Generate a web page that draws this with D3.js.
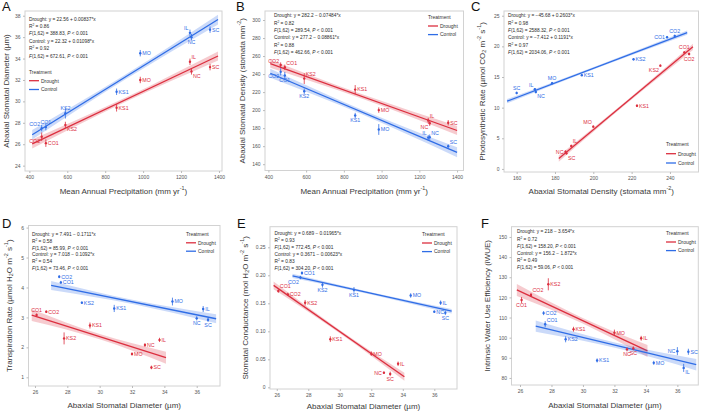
<!DOCTYPE html>
<html>
<head>
<meta charset="utf-8">
<script src="https://cdn.jsdelivr.net/npm/d3@7"></script>
<style>
  body { margin: 0; background: #fff; }
  svg { display: block; font-family: "Liberation Sans", Arial, sans-serif; }
</style>
</head>
<body>
<svg id="chart" width="702" height="411"></svg>
<script>
// sites, in the same order for every array below
var sites = ['CO1', 'CO2', 'KS2', 'KS1', 'MO', 'IL', 'NC', 'SC'];
var precip = [487, 465, 590, 860, 985, 1247, 1255, 1353];

// abaxial stomatal diameter (um)
var diamDrought = [26.1, 26.7, 27.8, 29.4, 32.0, 33.7, 32.8, 33.2];
var diamControl = [27.6, 27.5, 28.9, 30.9, 34.5, 36.4, 36.0, 36.7];
var diamErrDrought = [0.35, 0.4, 0.3, 0.35, 0.3, 0.3, 0.3, 0.3];
var diamErrControl = [0.3, 0.3, 0.5, 0.3, 0.3, 0.3, 0.3, 0.3];

// abaxial stomatal density (stomata mm-2)
var densDrought = [247.5, 250, 235, 222.8, 200, 188.5, 185.5, 186];
var densControl = [238.5, 242.5, 221, 194, 178.5, 169.5, 170, 160];
var densErrDrought = [3, 3, 6, 5, 3, 3, 3, 3];
var densErrControl = [4, 4, 3, 3, 6, 3, 3, 2];

// photosynthetic rate
var photoDrought = [19.0, 18.75, 16.85, 10.3, 6.9, 3.75, 2.8, 2.55];
var photoControl = [21.5, 21.7, 17.9, 15.3, 14.0, 13.0, 12.55, 12.4];
var photoErr = [0.2, 0.2, 0.2, 0.2, 0.2, 0.2, 0.2, 0.2];

// transpiration rate
var transDrought = [3.08, 3.19, 2.30, 2.73, 1.78, 2.25, 2.08, 1.33];
var transControl = [4.17, 4.36, 3.49, 3.30, 3.53, 3.28, 2.97, 2.92];
var transErrDrought = [0.05, 0.04, 0.2, 0.1, 0.05, 0.07, 0.06, 0.06];
var transErrControl = [0.05, 0.05, 0.04, 0.12, 0.13, 0.1, 0.07, 0.07];

// stomatal conductance
var condDrought = [0.172, 0.166, 0.151, 0.086, 0.060, 0.042, 0.026, 0.024];
var condControl = [0.204, 0.196, 0.183, 0.174, 0.164, 0.151, 0.135, 0.133];
var condErr = [0.003, 0.003, 0.005, 0.005, 0.004, 0.004, 0.002, 0.004];

// intrinsic water use efficiency
var iwueDrought = [118.7, 121.2, 126.5, 104.2, 102.5, 99.7, 94.2, 94.7];
var iwueControl = [106.7, 112.2, 99.2, 88.7, 87.5, 85.0, 93.3, 93.0];
var iwueErrDrought = [1.5, 1, 3, 1.2, 1.5, 1.2, 1, 1];
var iwueErrControl = [1.5, 1, 1.5, 1, 1, 2, 2, 1.5];

// fitted lines: [[x0, y0], [x1, y1]] and band half widths [left, mid, right]
var fitA = { drought: [[415, 26.03], [1395, 34.24]], control: [[415, 26.88], [1395, 37.64]] };
var bandA = { drought: [0.42, 0.2, 0.42], control: [0.45, 0.22, 0.45] };
var fitB = { drought: [[410, 251.5], [1400, 177.4]], control: [[410, 240.9], [1400, 153.2]] };
var bandB = { drought: [4.5, 2.5, 5], control: [5, 2.5, 5.5] };
var fitC = { drought: [[182, 1.69], [252, 19.92]], control: [[155, 11.05], [249, 22.24]] };
var bandC = { drought: [0.5, 0.25, 0.5], control: [0.35, 0.18, 0.35] };
var fitD = { drought: [[25.8, 3.077], [34.1, 1.656]], control: [[27.0, 4.07], [37.2, 2.956]] };
var bandD = { drought: [0.2, 0.09, 0.2], control: [0.15, 0.07, 0.15] };
var fitE = { drought: [[25.8, 0.182], [34.1, 0.0189]], control: [[27.0, 0.199], [37.1, 0.136]] };
var bandE = { drought: [0.007, 0.003, 0.007], control: [0.004, 0.002, 0.004] };
var fitF = { drought: [[25.8, 123.7], [34.1, 93.4]], control: [[27.0, 105.7], [37.2, 86.56]] };
var bandF = { drought: [3, 1.4, 3], control: [2.8, 1.3, 2.8] };

// statistics text
var statsA = ['Drought: y = 22.56 + 0.00837*x', '0.86', ['388.83'], 'Control: y = 22.32 + 0.01098*x', '0.92', ['672.61']];
var statsB = ['Drought: y = 282.2 \u2212 0.07484*x', '0.82', ['289.54'], 'Control: y = 277.2 \u2212 0.08861*x', '0.88', ['462.66']];
var statsC = ['Drought: y = \u221245.68 + 0.2603*x', '0.98', ['2588.32'], 'Control: y = \u22127.412 + 0.1191*x', '0.97', ['2034.06']];
var statsD = ['Drought: y = 7.491 \u2212 0.1711*x', '0.58', ['85.99'], 'Control: y = 7.018 \u2212 0.1092*x', '0.54', ['73.46']];
var statsE = ['Drought: y = 0.689 \u2212 0.01965*x', '0.93', ['772.45'], 'Control: y = 0.3671 \u2212 0.00623*x', '0.83', ['304.20']];
var statsF = ['Drought: y = 218 \u2212 3.654*x', '0.72', ['158.20'], 'Control: y = 156.2 \u2212 1.872*x', '0.49', ['59.06']];

// tick values
var precipTicks = [400, 600, 800, 1000, 1200, 1400];
var diamTicksA = [24, 26, 28, 30, 32, 34, 36, 38];
var densTicks = [140, 160, 180, 200, 220, 240, 260, 280, 300];
var densTicksX = [160, 180, 200, 220, 240];
var photoTicks = [0, 5, 10, 15, 20, 25];
var diamTicks = [26, 28, 30, 32, 34, 36];
var transTicks = [1, 2, 3, 4, 5, 6];
var condTicks = [0, 0.05, 0.10, 0.15, 0.20, 0.25];
var iwueTicks = [80, 90, 100, 110, 120, 130, 140, 150];

var red = '#dc2f3f',
    blue = '#2f6de6',
    frameStroke = '#d2d2d2',
    tickColor = '#555',
    titleColor = '#3a3a3a',
    titleSize = 8,
    statSize = 4.8;

var mapTitle = [['Mean Annual Precipitation (mm yr'], ['-1', 'sup'], [')']];
var diamTitle = [['Abaxial Stomatal Diameter (\u00b5m)']];
var densTitle = [['Abaxial Stomatal Density (stomata mm'], ['-2', 'sup'], [')']];

// label placement around each point: r, l, a, b, ar, al, br, bl
var panels = [
  { key: 'A', box: [25, 11, 222, 171], xDom: [377, 1416], yDom: [23.5, 38.44],
    xTicks: precipTicks, yTicks: diamTicksA,
    xs: [precip, precip], ys: [diamDrought, diamControl], errs: [diamErrDrought, diamErrControl],
    fit: fitA, band: bandA, stats: statsA, statsPos: [29, 20.5, 7.4],
    legend: [29, 73.5, 8.8], letter: [2, 11], yTitleX: 6, xTitleY: 193.5,
    xTitle: mapTitle, yTitle: diamTitle,
    lab: [['r', 'bl', 'br', 'r', 'r', 'ar', 'br', 'r'], ['a', 'al', 'a', 'r', 'r', 'al', 'b', 'r']] },
  { key: 'B', box: [265, 11, 463.5, 170.5], xDom: [382, 1434], yDom: [133, 310],
    xTicks: precipTicks, yTicks: densTicks,
    xs: [precip, precip], ys: [densDrought, densControl], errs: [densErrDrought, densErrControl],
    fit: fitB, band: bandB, stats: statsB, statsPos: [274, 17.4, 7.3],
    legend: [428, 19, 8.6], letter: [236, 11], yTitleX: 242, xTitleY: 193.5,
    xTitle: mapTitle, yTitle: densTitle,
    lab: [['ar', 'al', 'ar', 'r', 'r', 'ar', 'bl', 'r'], ['b', 'bl', 'b', 'b', 'r', 'al', 'ar', 'ar']] },
  { key: 'C', box: [504, 11, 698.5, 172], xDom: [153.4, 254.9], yDom: [-0.5, 25.77],
    xTicks: densTicksX, yTicks: photoTicks,
    xs: [densDrought, densControl], ys: [photoDrought, photoControl], errs: [photoErr, photoErr],
    fit: fitC, band: bandC, stats: statsC, statsPos: [508, 17.4, 7.3],
    legend: [666, 146, 9.3], letter: [471, 11], yTitleX: 482, xTitleY: 193.5,
    xTitle: densTitle,
    yTitle: [['Photosynthetic Rate (\u00b5mol CO'], ['2', 'sub'], [' m'], ['-2', 'sup'], [' s'], ['-1', 'sup'], [')']],
    lab: [['a', 'b', 'bl', 'r', 'al', 'ar', 'l', 'br'], ['l', 'a', 'r', 'r', 'a', 'al', 'br', 'a']] },
  { key: 'D', box: [28.5, 225.5, 220, 386], xDom: [25.6, 37.44], yDom: [0.71, 6.07],
    xTicks: diamTicks, yTicks: transTicks,
    xs: [diamDrought, diamControl], ys: [transDrought, transControl], errs: [transErrDrought, transErrControl],
    fit: fitD, band: bandD, stats: statsD, statsPos: [32, 235.7, 6.9],
    legend: [186, 236, 8.4], letter: [2, 228], yTitleX: 9, xTitleY: 407.5,
    xTitle: diamTitle,
    yTitle: [['Transpiration Rate (\u00b5mol H'], ['2', 'sub'], ['O m'], ['-2', 'sup'], [' s'], ['-1', 'sup'], [')']],
    lab: [['a', 'r', 'r', 'r', 'r', 'r', 'r', 'r'], ['r', 'r', 'r', 'r', 'r', 'r', 'b', 'b']] },
  { key: 'E', box: [270, 226.7, 457, 389], xDom: [25.57, 37.44], yDom: [-0.003, 0.2868],
    xTicks: diamTicks, yTicks: condTicks, yFmt: function(d) { return d === 0 ? '0' : d3.format('.2f')(d); },
    xs: [diamDrought, diamControl], ys: [condDrought, condControl], errs: [condErr, condErr],
    fit: fitE, band: bandE, stats: statsE, statsPos: [274.5, 235, 7],
    legend: [422, 236, 8.6], letter: [237, 228], yTitleX: 245, xTitleY: 408.5,
    xTitle: diamTitle,
    yTitle: [['Stomatal Conductance (mol H'], ['2', 'sub'], ['O m'], ['-2', 'sup'], [' s'], ['-1', 'sup'], [')']],
    lab: [['ar', 'r', 'r', 'r', 'r', 'r', 'l', 'b'], ['r', 'bl', 'b', 'b', 'r', 'r', 'r', 'b']] },
  { key: 'F', box: [511.5, 226.7, 698.3, 385], xDom: [25.46, 37.33], yDom: [76.5, 155.1],
    xTicks: diamTicks, yTicks: iwueTicks,
    xs: [diamDrought, diamControl], ys: [iwueDrought, iwueControl], errs: [iwueErrDrought, iwueErrControl],
    fit: fitF, band: bandF, stats: statsF, statsPos: [517, 233.4, 7.1],
    legend: [666, 235, 8.6], letter: [481, 228], yTitleX: 487, xTitleY: 407.5,
    xTitle: diamTitle,
    yTitle: [['Intrinsic Water Use Efficiency (iWUE)']],
    lab: [['b', 'ar', 'r', 'r', 'r', 'r', 'b', 'b'], ['ar', 'r', 'r', 'r', 'r', 'br', 'l', 'r']] }
];

var labelOffsets = {
  r:  { dx: 2,    dy: 1.9, anchor: 'start' },
  l:  { dx: -2,   dy: 1.9, anchor: 'end' },
  a:  { dx: 0,    dy: -3,  anchor: 'middle' },
  b:  { dx: 0,    dy: 6.8, anchor: 'middle' },
  ar: { dx: 1.5,  dy: -2.5, anchor: 'start' },
  al: { dx: -1.5, dy: -2.5, anchor: 'end' },
  br: { dx: 1.5,  dy: 6.2, anchor: 'start' },
  bl: { dx: -1.5, dy: 6.2, anchor: 'end' }
};

var svg = d3.select('#chart');

panels.forEach(drawPanel);

function rich(sel, parts, size) {
  var shift = 0;
  parts.forEach(function(p) {
    var s = p[1] === 'sup' ? -0.38 * size : p[1] === 'sub' ? 0.22 * size : 0;
    var t = sel.append('tspan').text(p[0]).attr('dy', s - shift);
    shift = s;
    if (p[1] === 'sup' || p[1] === 'sub') t.attr('font-size', size * 0.68);
    if (p[1] === 'i') t.attr('font-style', 'italic');
  });
}

function drawPanel(p) {
  var box = p.box;
  var g = svg.append('g').attr('class', 'panel panel-' + p.key);

  var x = d3.scaleLinear().domain(p.xDom).range([box[0], box[2]]);
  var y = d3.scaleLinear().domain(p.yDom).range([box[3], box[1]]);

  g.append('rect')
    .attr('x', box[0]).attr('y', box[1])
    .attr('width', box[2] - box[0]).attr('height', box[3] - box[1])
    .attr('fill', '#fff')
    .attr('stroke', frameStroke)
    .attr('stroke-width', 1);

  // axes
  var gx = g.append('g')
    .attr('transform', 'translate(0,' + box[3] + ')')
    .call(d3.axisBottom(x).tickValues(p.xTicks).tickSize(2).tickPadding(2.5)
      .tickFormat(p.xFmt || d3.format('d')));
  var gy = g.append('g')
    .attr('transform', 'translate(' + box[0] + ',0)')
    .call(d3.axisLeft(y).tickValues(p.yTicks).tickSize(2).tickPadding(2.5)
      .tickFormat(p.yFmt || d3.format('d')));
  [gx, gy].forEach(function(a) {
    a.select('.domain').remove();
    a.selectAll('line').attr('stroke', '#bbb');
    a.selectAll('text').attr('fill', tickColor).attr('font-size', 5)
      .attr('font-family', '"Liberation Sans", Arial, sans-serif');
  });

  // titles
  var xt = g.append('text')
    .attr('x', (box[0] + box[2]) / 2)
    .attr('y', p.xTitleY)
    .attr('text-anchor', 'middle')
    .attr('font-size', titleSize)
    .attr('fill', titleColor);
  rich(xt, p.xTitle, titleSize);

  var yt = g.append('text')
    .attr('transform', 'translate(' + p.yTitleX + ',' + ((box[1] + box[3]) / 2) + ') rotate(-90)')
    .attr('text-anchor', 'middle')
    .attr('dominant-baseline', 'central')
    .attr('font-size', titleSize)
    .attr('fill', titleColor);
  rich(yt, p.yTitle, titleSize);

  g.append('text')
    .attr('x', p.letter[0]).attr('y', p.letter[1])
    .attr('font-size', 13)
    .attr('fill', '#111')
    .text(p.key);

  // confidence bands and fitted lines
  var area = d3.area()
    .x(function(d) { return x(d[0]); })
    .y0(function(d) { return y(d[1] - d[2]); })
    .y1(function(d) { return y(d[1] + d[2]); })
    .curve(d3.curveNatural);

  ['drought', 'control'].forEach(function(tr) {
    var f = p.fit[tr], w = p.band[tr];
    var col = tr === 'drought' ? red : blue;
    var mid = [(f[0][0] + f[1][0]) / 2, (f[0][1] + f[1][1]) / 2];
    g.append('path')
      .datum([[f[0][0], f[0][1], w[0]], [mid[0], mid[1], w[1]], [f[1][0], f[1][1], w[2]]])
      .attr('d', area)
      .attr('fill', col)
      .attr('fill-opacity', 0.25);
    g.append('line')
      .attr('x1', x(f[0][0])).attr('y1', y(f[0][1]))
      .attr('x2', x(f[1][0])).attr('y2', y(f[1][1]))
      .attr('stroke', col)
      .attr('stroke-width', 1.3);
  });

  // points, error bars, site labels
  [0, 1].forEach(function(k) {
    var col = k === 0 ? red : blue;
    var pts = sites.map(function(s, i) {
      return { site: s, x: p.xs[k][i], y: p.ys[k][i], e: p.errs[k][i], pos: p.lab[k][i] };
    });
    var pg = g.append('g').attr('class', k === 0 ? 'drought' : 'control');
    pg.selectAll('line.err').data(pts).enter().append('line')
      .attr('class', 'err')
      .attr('x1', function(d) { return x(d.x); })
      .attr('x2', function(d) { return x(d.x); })
      .attr('y1', function(d) { return y(d.y - d.e); })
      .attr('y2', function(d) { return y(d.y + d.e); })
      .attr('stroke', col)
      .attr('stroke-width', 0.8);
    pg.selectAll('circle').data(pts).enter().append('circle')
      .attr('cx', function(d) { return x(d.x); })
      .attr('cy', function(d) { return y(d.y); })
      .attr('r', 1.2)
      .attr('fill', col);
    pg.selectAll('text').data(pts).enter().append('text')
      .attr('x', function(d) { return x(d.x) + labelOffsets[d.pos].dx; })
      .attr('y', function(d) { return y(d.y) + labelOffsets[d.pos].dy; })
      .attr('text-anchor', function(d) { return labelOffsets[d.pos].anchor; })
      .attr('font-size', 5.3)
      .attr('fill', col)
      .text(function(d) { return d.site; });
  });

  // statistics block
  var sx = p.statsPos[0], sy = p.statsPos[1], sh = p.statsPos[2];
  var st = p.stats;
  var lines = [
    [[st[0]]],
    [['R'], ['2', 'sup'], [' = ' + st[1]]],
    [['F', 'i'], ['(1,62) = ' + st[2][0] + ', '], ['P', 'i'], [' < 0.001']],
    [[st[3]]],
    [['R'], ['2', 'sup'], [' = ' + st[4]]],
    [['F', 'i'], ['(1,62) = ' + st[5][0] + ', '], ['P', 'i'], [' < 0.001']]
  ];
  lines.forEach(function(parts, i) {
    var t = g.append('text')
      .attr('x', sx).attr('y', sy + i * sh)
      .attr('font-size', statSize)
      .attr('fill', '#2a2a2a');
    rich(t, parts, statSize);
  });

  // legend
  var lx = p.legend[0], ly = p.legend[1], lh = p.legend[2];
  g.append('text').attr('x', lx).attr('y', ly)
    .attr('font-size', 5).attr('fill', '#333').text('Treatment');
  [['Drought', red], ['Control', blue]].forEach(function(it, i) {
    var yy = ly + (i + 1) * lh - 1.6;
    g.append('line')
      .attr('x1', lx).attr('x2', lx + 10)
      .attr('y1', yy).attr('y2', yy)
      .attr('stroke', it[1]).attr('stroke-width', 1.3);
    g.append('text').attr('x', lx + 12).attr('y', yy + 1.8)
      .attr('font-size', 5).attr('fill', '#333').text(it[0]);
  });
}
</script>
</body>
</html>
